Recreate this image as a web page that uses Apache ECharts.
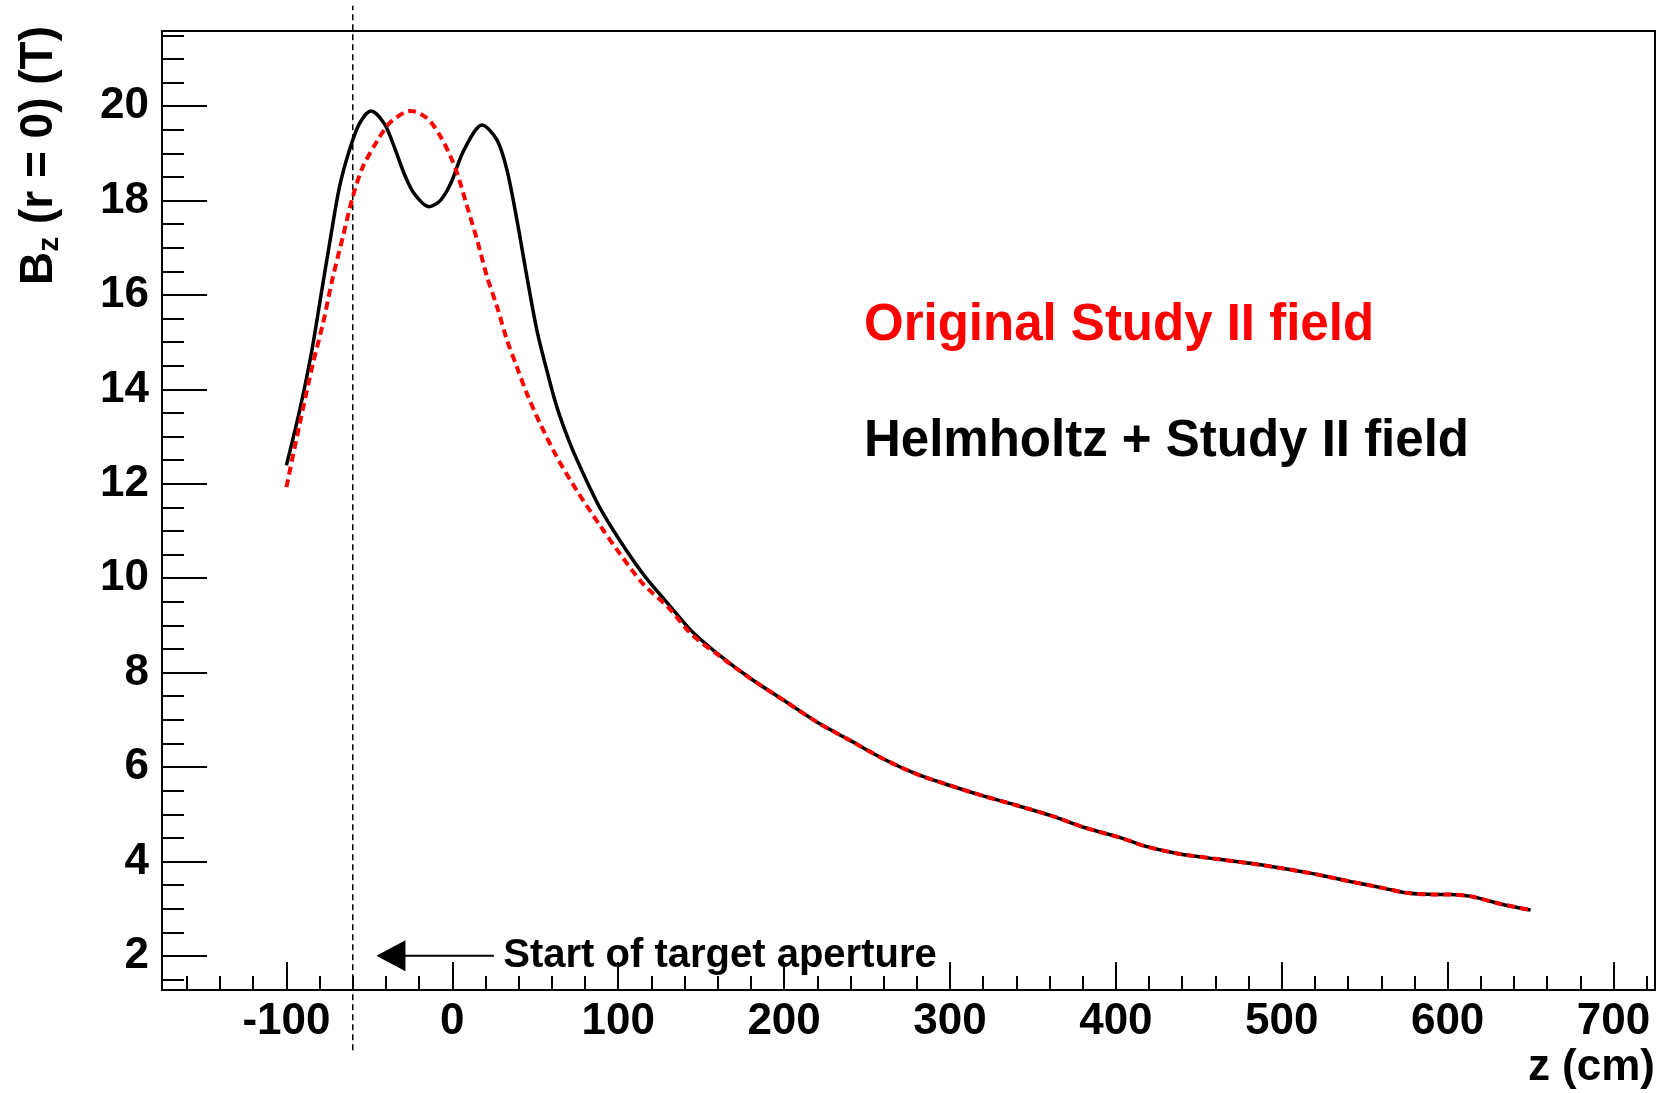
<!DOCTYPE html>
<html><head><meta charset="utf-8">
<script src="https://cdn.jsdelivr.net/npm/echarts@6/dist/echarts.min.js"></script>
<style>html,body{margin:0;padding:0;background:#fff}#c{width:1658px;height:1093px}</style>
</head><body><div id="c"></div>
<script>
// Helmholtz + Study II field (black solid)
const helmZ = [-100,-92,-85,-79,-73,-68,-62,-56,-49,-41,-35,-29,-23,-14,-7,-1,7,18,27,33,39,45,51,57,63,71,79,89,101,115,130,144,160,180,200,220,240,260,280,300,320,341,361,381,403,417,437,461,481,501,522,542,562,576,592,602,614,632,650];
const helmB = [12.39,13.56,14.76,16.03,17.30,18.29,19.07,19.63,19.90,19.63,19.14,18.57,18.15,17.87,18.01,18.36,19.07,19.60,19.28,18.64,17.58,16.38,15.25,14.40,13.63,12.85,12.21,11.49,10.80,10.09,9.46,8.89,8.40,7.87,7.41,6.95,6.56,6.17,5.85,5.61,5.39,5.18,4.97,4.72,4.50,4.33,4.17,4.05,3.96,3.85,3.72,3.57,3.43,3.33,3.30,3.30,3.26,3.10,2.97];
// Original Study II field (red dashed)
const origZ = [-100,-92,-84,-78,-72,-66,-60,-54,-45,-37,-25,-15,-7,-1,3,9,15,21,27,33,39,45,53,63,75,89,101,115,130,144,160,180,200,220,240,260,280,300,320,341,361,381,403,417,437,461,481,501,522,542,562,576,592,602,614,632,650];
const origB = [11.93,13.27,14.55,15.39,16.38,17.23,18.08,18.71,19.28,19.67,19.90,19.74,19.35,18.93,18.57,17.87,17.16,16.38,15.75,15.04,14.47,13.91,13.27,12.57,11.86,11.12,10.52,9.88,9.39,8.82,8.38,7.87,7.41,6.95,6.56,6.17,5.85,5.61,5.39,5.18,4.97,4.72,4.50,4.33,4.17,4.05,3.96,3.85,3.72,3.57,3.43,3.33,3.30,3.30,3.26,3.10,2.97];
// annotation
const apertureZ = [-60, -60];
const apertureB = [0, 22.13];
const arrowZ = [25, -37];
const arrowB = [2, 2];
// axes
const zTicks = [-100,0,100,200,300,400,500,600,700];
const zMinorTicks = [-160,-140,-120,-100,-80,-60,-40,-20,0,20,40,60,80,100,120,140,160,180,200,220,240,260,280,300,320,340,360,380,400,420,440,460,480,500,520,540,560,580,600,620,640,660,680,700,720];
const bTicks = [2,4,6,8,10,12,14,16,18,20];
const bMinorTicks = [1.5,2,2.5,3,3.5,4,4.5,5,5.5,6,6.5,7,7.5,8,8.5,9,9.5,10,10.5,11,11.5,12,12.5,13,13.5,14,14.5,15,15.5,16,16.5,17,17.5,18,18.5,19,19.5,20,20.5,21,21.5];

const FONT = "'Liberation Sans', Arial, Helvetica, sans-serif";
const zip = (a, b) => a.map((v, i) => [v, b[i]]);

const chart = echarts.init(document.getElementById('c'), null, {renderer: 'canvas'});
const labelStyle = {fontSize: 44, fontWeight: 'bold', fontFamily: FONT, color: '#000'};
const tickLine = {color: '#000', width: 2};

chart.setOption({
  animation: false,
  backgroundColor: '#fff',
  grid: {left: 162, top: 31, right: 3, bottom: 103, show: true, borderColor: '#000', borderWidth: 2, containLabel: false},
  xAxis: [
    {type: 'value', min: -175, max: 725, position: 'bottom',
     axisLine: {show: true, onZero: false, lineStyle: {color: '#000', width: 2}},
     axisTick: {show: true, inside: true, length: 28, customValues: zTicks, lineStyle: tickLine},
     axisLabel: Object.assign({customValues: zTicks, margin: 10}, labelStyle),
     splitLine: {show: false}},
    {type: 'value', min: -175, max: 725, position: 'bottom',
     axisLine: {show: false, onZero: false},
     axisTick: {show: true, inside: true, length: 14, customValues: zMinorTicks, lineStyle: tickLine},
     axisLabel: {show: false}, splitLine: {show: false}}
  ],
  yAxis: [
    {type: 'value', min: 1.277, max: 21.593, position: 'left',
     axisLine: {show: true, onZero: false, lineStyle: {color: '#000', width: 2}},
     axisTick: {show: true, inside: true, length: 45, customValues: bTicks, lineStyle: tickLine},
     axisLabel: Object.assign({customValues: bTicks, margin: 13}, labelStyle),
     splitLine: {show: false}},
    {type: 'value', min: 1.277, max: 21.593, position: 'left',
     axisLine: {show: false, onZero: false},
     axisTick: {show: true, inside: true, length: 22, customValues: bMinorTicks, lineStyle: tickLine},
     axisLabel: {show: false}, splitLine: {show: false}}
  ],
  series: [
    {type: 'line', name: 'Helmholtz + Study II field', data: zip(helmZ, helmB), symbol: 'none', smooth: 0.3,
     lineStyle: {color: '#000', width: 3.5}, z: 3},
    {type: 'line', name: 'Original Study II field', data: zip(origZ, origB), symbol: 'none', smooth: 0.3,
     lineStyle: {color: '#ff0000', width: 4, type: [8, 5]}, z: 4},
    {type: 'line', data: zip(apertureZ, apertureB), symbol: 'none', clip: false,
     lineStyle: {color: '#000', width: 1.5, type: [6, 4]}, z: 2},
    {type: 'line', clip: false, showSymbol: true,
     data: [
       {value: [arrowZ[0], arrowB[0]], symbol: 'circle', symbolSize: 1,
        label: {show: true, position: 'right', distance: 9, formatter: 'Start of target aperture',
                fontSize: 40, fontWeight: 'bold', fontFamily: FONT, color: '#000'}},
       {value: [arrowZ[1], arrowB[1]], symbol: 'triangle', symbolSize: [31, 29], symbolRotate: 90}
     ],
     itemStyle: {color: '#000'}, lineStyle: {color: '#000', width: 2}, z: 5}
  ],
  graphic: [
    {type: 'text', x: 39, y: 26, rotation: Math.PI / 2,
     style: {text: '{a|B}{s|z}{a| (r = 0) (T)}', align: 'right', verticalAlign: 'middle',
       rich: {a: {fontSize: 46, fontWeight: 'bold', fontFamily: FONT, fill: '#000', lineHeight: 52},
              s: {fontSize: 30, fontWeight: 'bold', fontFamily: FONT, fill: '#000', lineHeight: 52, verticalAlign: 'bottom', padding: [14, 0, 0, 0]}}}},
    {type: 'text', x: 1655, y: 1068,
     style: {text: 'z (cm)', align: 'right', verticalAlign: 'middle', fontSize: 44, fontWeight: 'bold', fontFamily: FONT, fill: '#000'}},
    {type: 'text', x: 864, y: 326,
     style: {text: 'Original Study II field', align: 'left', verticalAlign: 'middle', fontSize: 51, fontWeight: 'bold', fontFamily: FONT, fill: '#ff0000'}},
    {type: 'text', x: 864, y: 442,
     style: {text: 'Helmholtz + Study II field', align: 'left', verticalAlign: 'middle', fontSize: 51, fontWeight: 'bold', fontFamily: FONT, fill: '#000'}}
  ]
});
</script></body></html>
